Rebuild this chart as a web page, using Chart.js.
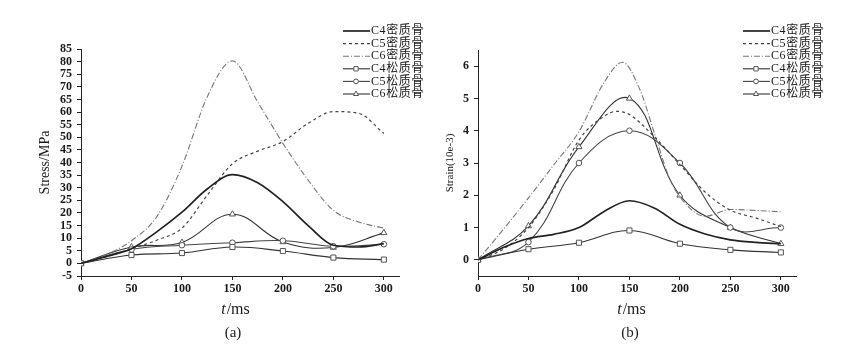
<!DOCTYPE html>
<html>
<head>
<meta charset="utf-8">
<script src="https://cdn.jsdelivr.net/npm/chart.js@4.4.0/dist/chart.umd.min.js"></script>
<style>
    body { margin: 0; background: #fff; }
    #wrap { position: relative; width: 842px; height: 348px; }
    canvas { position: absolute; top: 0; left: 0; }
</style>
</head>
<body>
<div id="wrap">
    <canvas id="stressChart" width="842" height="348"></canvas>
    <canvas id="strainChart" width="842" height="348"></canvas>
</div>
<script>
// time axis: dense bone curves read every 25 ms (plus peaks), loose bone markers every 50 ms
const tFine = [0, 25, 50, 75, 100, 125, 150, 175, 200, 225, 250, 275, 300];
const tMarks = [0, 50, 100, 150, 200, 250, 300];
const tStrainC5 = [0, 25, 50, 75, 100, 125, 137, 150, 175, 200, 225, 250, 275, 300];
const tStrainC6 = [0, 25, 50, 75, 100, 125, 143, 160, 175, 190, 200, 225, 250, 275, 300];
const xTicks = [0, 50, 100, 150, 200, 250, 300];
const stressTicks = [-5, 0, 5, 10, 15, 20, 25, 30, 35, 40, 45, 50, 55, 60, 65, 70, 75, 80, 85];
const strainTicks = [0, 1, 2, 3, 4, 5, 6];

const seriesNames = ['C4密质骨', 'C5密质骨', 'C6密质骨', 'C4松质骨', 'C5松质骨', 'C6松质骨'];

// (a) stress, MPa
const stressC4Dense = [0, 2.8, 5.8, 12.5, 20.3, 29.5, 35.2, 32, 24.5, 15, 7.2, 6.5, 7.8];
const stressC5Dense = [0, 2.6, 5.8, 9.2, 14, 27, 39.5, 44.5, 48.3, 55.5, 60.2, 59.5, 51.5];
const stressC6Dense = [0, 3.5, 9, 18.5, 38.5, 66, 80.3, 64, 47.6, 33, 21, 16.4, 14];
const stressC4Loose = [0, 3.3, 4.1, 6.5, 4.9, 2.3, 1.5];
const stressC5Loose = [0, 5.5, 7.2, 8.2, 9.0, 6.8, 7.6];
const stressC6Loose = [0, 6.5, 8.3, 19.5, 8.5, 6.3, 12.1];

// (b) strain, 10e-3
const strainC4Dense = [0, 0.38, 0.66, 0.79, 1.0, 1.5, 1.83, 1.6, 1.1, 0.8, 0.62, 0.54, 0.5];
const strainC5Dense = [0, 0.33, 1.0, 2.17, 3.71, 4.45, 4.6, 4.5, 3.8, 2.95, 2.1, 1.54, 1.3, 1.03];
const strainC6Dense = [0, 0.94, 1.92, 2.94, 3.97, 5.5, 6.12, 5.3, 3.9, 2.5, 1.95, 1.35, 1.56, 1.53, 1.49];
const strainC4Loose = [0, 0.33, 0.53, 0.91, 0.5, 0.31, 0.23];
const strainC5Loose = [0, 0.55, 3.0, 4.0, 3.0, 1.0, 1.0];
const strainC6Loose = [0, 1.05, 3.5, 5.0, 2.0, 1.0, 0.5];

const serif = "'Liberation Serif', 'Times New Roman', serif";
const ink = '#1a1a1a';

const seriesStyles = [
    { borderColor: '#222', borderWidth: 1.7, pointRadius: 0, cubicInterpolationMode: 'monotone' },
    { borderColor: '#444', borderWidth: 1.2, borderDash: [3, 3], pointRadius: 0, cubicInterpolationMode: 'monotone' },
    { borderColor: '#777', borderWidth: 1.1, borderDash: [6, 2, 1, 2], pointRadius: 0, cubicInterpolationMode: 'monotone' },
    { borderColor: '#333', borderWidth: 1.1, pointStyle: 'rect', pointRadius: 3.6, tension: 0.4 },
    { borderColor: '#444', borderWidth: 1.1, pointStyle: 'circle', pointRadius: 2.8, tension: 0.4 },
    { borderColor: '#333', borderWidth: 1.1, pointStyle: 'triangle', pointRadius: 3.5, tension: 0.4 }
];

function makeSet(i, xs, ys) {
    const s = seriesStyles[i];
    return Object.assign({
        label: seriesNames[i],
        data: xs.map((x, k) => ({ x: x, y: ys[k] })),
        fill: false,
        pointBackgroundColor: '#fff',
        pointBorderColor: '#555',
        pointBorderWidth: 1
    }, s);
}

// legend, x title with italic t, and panel letter
const notesPlugin = {
    id: 'sideNotes',
    afterDraw(chart, args, opts) {
        const ctx = chart.ctx;
        ctx.save();
        chart.data.datasets.forEach((ds, i) => {
            const y = opts.legendY + i * 12.6;
            const x0 = opts.legendX;
            ctx.strokeStyle = ds.borderColor;
            ctx.lineWidth = ds.borderWidth;
            ctx.setLineDash(ds.borderDash || []);
            ctx.beginPath();
            ctx.moveTo(x0, y);
            ctx.lineTo(x0 + 27, y);
            ctx.stroke();
            ctx.setLineDash([]);
            if (ds.pointRadius) {
                ctx.fillStyle = '#fff';
                ctx.strokeStyle = '#555';
                ctx.lineWidth = 1;
                Chart.helpers.drawPoint(ctx, { pointStyle: ds.pointStyle, radius: ds.pointRadius * 0.85, borderWidth: 1, rotation: 0 }, x0 + 13, y);
            }
            ctx.fillStyle = ink;
            ctx.font = "12px 'Liberation Serif', 'Noto Sans CJK SC', serif";
            ctx.textBaseline = 'middle';
            ctx.textAlign = 'left';
            ctx.letterSpacing = '0.6px';
            ctx.fillText(ds.label, x0 + 28, y);
            ctx.letterSpacing = '0px';
        });

        // "t/ms"
        ctx.textBaseline = 'middle';
        ctx.font = 'italic 16px ' + serif;
        const wT = ctx.measureText('t').width;
        ctx.font = '16px ' + serif;
        const wRest = ctx.measureText('/ms').width;
        const x = opts.titleX - (wT + wRest) / 2;
        ctx.textAlign = 'left';
        ctx.font = 'italic 16px ' + serif;
        ctx.fillText('t', x, 310);
        ctx.font = '16px ' + serif;
        ctx.fillText('/ms', x + wT + 1, 310);

        ctx.textAlign = 'center';
        ctx.font = '15px ' + serif;
        ctx.fillText(opts.panel, opts.panelX, 333);
        ctx.restore();
    }
};

function axisStyle() {
    return {
        grid: { drawOnChartArea: false, drawTicks: true, tickLength: 4, color: '#222', lineWidth: 1 },
        border: { display: true, color: '#222', width: 1 },
        ticks: { color: ink, font: { family: serif, size: 12, weight: 'bold' }, maxRotation: 0, autoSkip: false }
    };
}

function buildChart(canvasId, sets, yMin, yMax, yTickVals, yTitle, yTitleFont, yTitlePad, pad, notes) {
    const xAxis = axisStyle();
    xAxis.type = 'linear';
    xAxis.min = 0;
    xAxis.max = 315;
    xAxis.ticks.padding = 2;
    xAxis.afterBuildTicks = s => { s.ticks = xTicks.map(v => ({ value: v })); };
    xAxis.afterFit = s => { s.height = 72; };

    const yAxis = axisStyle();
    yAxis.min = yMin;
    yAxis.max = yMax;
    yAxis.ticks.padding = 5;
    yAxis.afterBuildTicks = s => { s.ticks = yTickVals.map(v => ({ value: v })); };
    yAxis.afterFit = s => { s.width = pad.yWidth; };
    yAxis.title = {
        display: true,
        text: yTitle,
        color: ink,
        font: { family: serif, size: yTitleFont },
        padding: { top: yTitlePad, bottom: 0 }
    };

    return new Chart(document.getElementById(canvasId), {
        type: 'line',
        data: { datasets: sets },
        options: {
            responsive: false,
            animation: false,
            layout: { padding: { left: pad.left, right: pad.right, top: pad.top, bottom: 0 } },
            plugins: {
                legend: { display: false },
                tooltip: { enabled: false },
                sideNotes: notes
            },
            scales: { x: xAxis, y: yAxis }
        },
        plugins: [notesPlugin]
    });
}

buildChart('stressChart', [
    makeSet(0, tFine, stressC4Dense),
    makeSet(1, tFine, stressC5Dense),
    makeSet(2, tFine, stressC6Dense),
    makeSet(3, tMarks, stressC4Loose),
    makeSet(4, tMarks, stressC5Loose),
    makeSet(5, tMarks, stressC6Loose)
], -5, 85, stressTicks, 'Stress/MPa', 14, 37, { left: 0, yWidth: 81, right: 443, top: 49 },
   { legendX: 343, legendY: 31, titleX: 235, panel: '(a)', panelX: 233 });

buildChart('strainChart', [
    makeSet(0, tFine, strainC4Dense),
    makeSet(1, tStrainC5, strainC5Dense),
    makeSet(2, tStrainC6, strainC6Dense),
    makeSet(3, tMarks, strainC4Loose),
    makeSet(4, tMarks, strainC5Loose),
    makeSet(5, tMarks, strainC6Loose)
], -0.5, 6.5, strainTicks, 'Strain(10e-3)', 11, 23, { left: 421, yWidth: 57, right: 46, top: 50 },
   { legendX: 743, legendY: 31, titleX: 631, panel: '(b)', panelX: 630 });
</script>
</body>
</html>
